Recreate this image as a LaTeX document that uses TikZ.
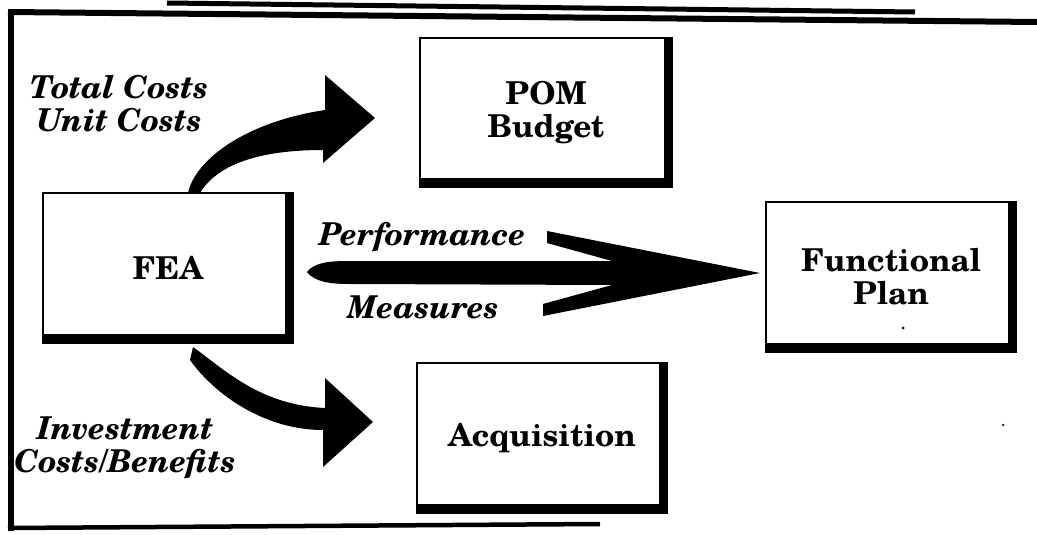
\documentclass[tikz,border=0pt]{standalone}
\usepackage{fontspec}
\setmainfont{TeX Gyre Schola}
\usetikzlibrary{calc}
\begin{document}
\begin{tikzpicture}[x=1pt,y=-1pt,
  box/.style={draw, line width=2.5pt, inner sep=0pt, align=center,
    font=\fontsize{31.5}{33}\selectfont\bfseries},
  itlabel/.style={font=\fontsize{31.5}{33}\selectfont\bfseries\itshape, align=center, inner sep=0pt},
  frameline/.style={line width=6pt},
  dot/.style={fill=black, circle, inner sep=0pt, minimum size=3pt}]
\useasboundingbox (0,0) rectangle (1037,535);

% frame and title rule
\draw[line width=5pt] (167,3) -- (915,12);
\draw[frameline] (8,12) -- (1037,22);
\draw[frameline] (11,9) -- (11,531);
\draw[line width=4.5pt] (8,528) -- (600,524);

% boxes
\node[box, minimum width=250, minimum height=150] (fea) at (168,268) {FEA};
\node[box, minimum width=252, minimum height=149] (pom) at (546,112.5) {POM\\Budget};
\node[box, minimum width=250, minimum height=150] (fp) at (891,277) {Functional\\Plan};
\node[box, minimum width=250, minimum height=150] (acq) at (542,438) {Acquisition};

% shadows (thick right and bottom edges)
\foreach \b in {fea,pom,fp,acq}{
  \fill ($(\b.north east)+(-9,0)$) rectangle (\b.south east);
  \fill ($(\b.south west)+(0,-10)$) rectangle (\b.south east);
}

% arrows
\fill (188,193) .. controls (195,160) and (245,122) .. (325,110) -- (325,75)
  -- (375,118) -- (323,163) -- (323,150) .. controls (270,150) and (220,160) .. (200,193) -- cycle;
\fill (307,272) .. controls (315,262) and (330,261) .. (350,261) -- (612,261) -- (547,243)
  -- (547,231) -- (760,273) -- (543,316) -- (543,304) -- (612,285) -- (350,284)
  .. controls (330,284) and (315,282) .. (307,272) -- cycle;
\fill (193,347) .. controls (225,370) and (260,405) .. (325,408) -- (325,378) -- (373,422)
  -- (323,467) -- (323,430) .. controls (265,430) and (215,395) .. (190,360) -- cycle;

% labels
\node[itlabel] (lcost) at (119,103.5) {Total Costs\\Unit Costs};
\node[itlabel] (lperf) at (422,237) {Performance};
\node[itlabel] (lmeas) at (423,307) {Measures};
\node[itlabel] (linv) at (125,447.5) {Investment\\Costs/Benefits};

% stray dots
\node[dot] (d1) at (903,328) {};
\node[dot, minimum size=2.5pt] (d2) at (1003,425) {};
\end{tikzpicture}
\end{document}
